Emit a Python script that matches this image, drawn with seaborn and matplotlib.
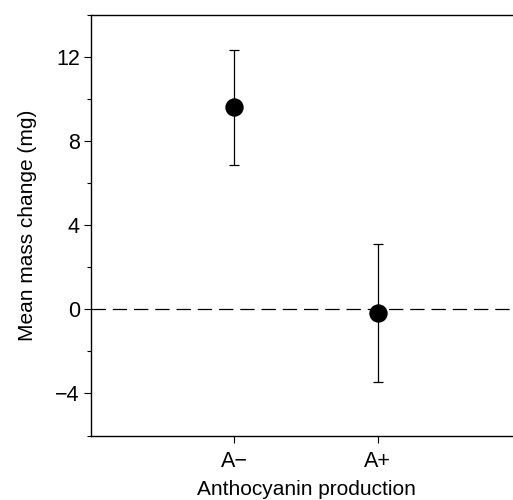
import matplotlib
matplotlib.use("Agg")
import matplotlib.pyplot as plt
import seaborn as sns
import pandas as pd
from matplotlib.ticker import MultipleLocator

# values
groups = ["A\u2212", "A+"]
means = [9.62, -0.16]
upper = [12.35, 3.10]
lower = [6.86, -3.46]

df = pd.DataFrame({"group": groups, "mean": means})
err_lo = [m - lo for m, lo in zip(means, lower)]
err_hi = [hi - m for m, hi in zip(means, upper)]

sns.set_style("ticks", {"text.color": "black", "axes.labelcolor": "black",
                        "xtick.color": "black", "ytick.color": "black"})
plt.rcParams["font.family"] = ["Liberation Sans", "DejaVu Sans"]

fig = plt.figure(figsize=(5.13, 5.0), dpi=100)
ax = fig.add_axes([91 / 513, 0.129, 430 / 513, 0.841])

ax.axhline(0, color="black", lw=0.9, dashes=(11.5, 5.5), zorder=1)
ax.errorbar(range(len(groups)), means, yerr=[err_lo, err_hi], fmt="none",
            ecolor="black", elinewidth=0.9, capsize=3.3, capthick=0.9, zorder=2)
sns.scatterplot(data=df, x="group", y="mean", ax=ax, color="black", s=175,
                edgecolor="black", linewidth=0, zorder=3, legend=False)

ax.set_xlim(-1, 2)
ax.set_ylim(-6, 14)
ax.yaxis.set_minor_locator(MultipleLocator(2))
ax.set_yticks([-4, 0, 4, 8, 12])
ax.set_yticklabels(["\u22124", "0", "4", "8", "12"])

for side in ["left", "top", "bottom"]:
    ax.spines[side].set_linewidth(1.0)
    ax.spines[side].set_color("black")
ax.spines["right"].set_visible(False)

ax.tick_params(axis="both", which="major", length=5, width=0.8, labelsize=15.5,
               direction="out", colors="black", labelcolor="black", pad=3)
ax.tick_params(axis="x", which="major", pad=6)
ax.tick_params(axis="y", which="minor", length=3, width=0.8, direction="out")
ax.tick_params(axis="x", which="minor", bottom=False)

ax.set_xlabel("Anthocyanin production", fontsize=15, labelpad=6, color="black")
ax.set_ylabel("Mean mass change (mg)", fontsize=15, labelpad=13, color="black")

fig.savefig("out.png", dpi=100)
